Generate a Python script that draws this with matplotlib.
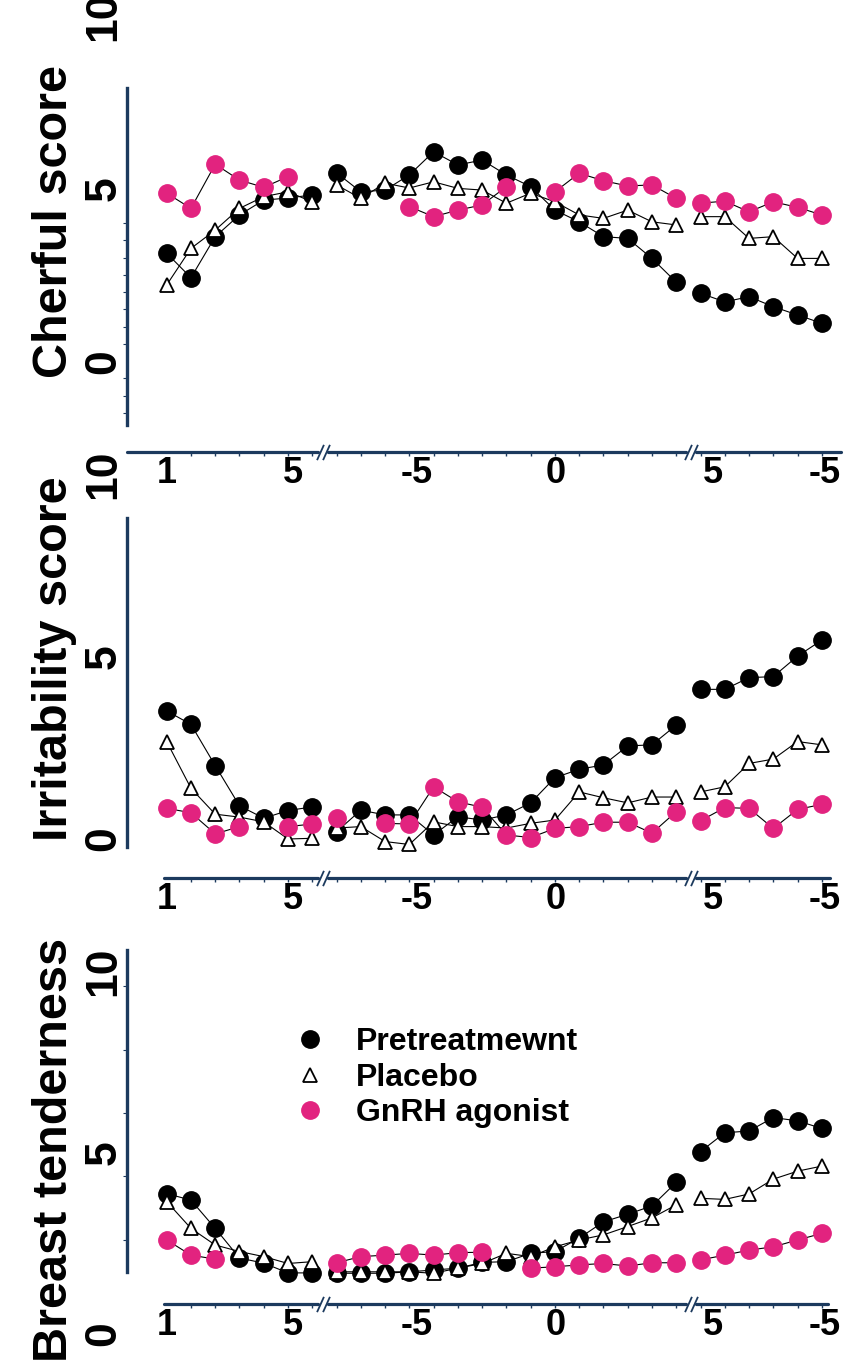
import numpy as np
import matplotlib
matplotlib.use('Agg')
import matplotlib.pyplot as plt
import matplotlib.transforms as mtransforms
from matplotlib.lines import Line2D

plt.rcParams['font.family'] = ['Liberation Sans', 'DejaVu Sans']
plt.rcParams['font.weight'] = 'bold'

nan = np.nan

# ---------------- data ----------------
x_idx = np.arange(28)
segments = [(0, 7), (7, 22), (22, 28)]
xtick_pos = [0, 5.2, 10.3, 16.05, 22.5, 27.1]
xtick_labels = ['1', '5', '-5', '0', '5', '-5']
ytick_pos = [0, 5, 10]
ytick_labels = ['0', '5', '10']
series_names = ['Pretreatmewnt', 'Placebo', 'GnRH agonist']

cheer_pre = [3.13, 2.42, 3.61, 4.24, 4.67, 4.73, 4.82, 5.46, 4.91, 4.96, 5.40, 6.07, 5.69, 5.83,
             5.40, 5.06, 4.38, 4.04, 3.61, 3.56, 2.98, 2.29, 1.97, 1.72, 1.87, 1.58, 1.34, 1.10]
cheer_pla = [2.21, 3.27, 3.80, 4.43, 4.77, 4.91, 4.62, 5.11, 4.72, 5.16, 5.02, 5.20, 5.01, 4.96,
             4.58, 4.87, 4.62, 4.24, 4.14, 4.38, 4.04, 3.95, 4.19, 4.19, 3.56, 3.61, 2.98, 2.98]
cheer_gnrh = [4.87, 4.43, 5.71, 5.25, 5.04, 5.35, nan, nan, nan, nan, 4.48, 4.19, 4.38, 4.53,
              5.06, nan, 4.91, 5.45, 5.23, 5.08, 5.11, 4.72, 4.58, 4.64, 4.33, 4.62, 4.46, 4.24]

irr_pre = [3.51, 3.14, 2.01, 0.91, 0.57, 0.78, 0.88, 0.20, 0.79, 0.66, 0.66, 0.11, 0.61, 0.52,
           0.66, 0.99, 1.68, 1.91, 2.03, 2.55, 2.58, 3.12, 4.10, 4.10, 4.42, 4.45, 5.01, 5.45]
irr_pla = [2.67, 1.39, 0.68, 0.60, 0.47, 0.00, 0.02, 0.30, 0.34, -0.07, -0.15, 0.47, 0.34, 0.34,
           0.30, 0.43, 0.52, 1.29, 1.13, 0.99, 1.15, 1.15, 1.29, 1.43, 2.07, 2.19, 2.67, 2.58]
irr_gnrh = [0.84, 0.72, 0.14, 0.34, nan, 0.34, 0.41, 0.57, nan, 0.43, 0.41, 1.43, 1.02, 0.87,
            0.11, 0.04, 0.29, 0.34, 0.46, 0.46, 0.16, 0.75, 0.50, 0.86, 0.84, 0.29, 0.81, 0.95]

breast_pre = [3.87, 3.69, 2.91, 2.09, 1.95, 1.68, 1.68, 1.67, 1.67, 1.67, 1.71, 1.76, 1.81, 1.97,
              1.99, 2.22, 2.27, 2.64, 3.09, 3.30, 3.53, 4.18, 5.03, 5.55, 5.60, 5.97, 5.88, 5.67]
breast_pla = [3.65, 2.91, 2.45, 2.27, 2.13, 1.94, 1.99, 1.71, 1.71, 1.71, 1.71, 1.67, 1.81, 1.94,
              2.22, 2.13, 2.40, 2.59, 2.73, 2.96, 3.20, 3.56, 3.74, 3.71, 3.86, 4.27, 4.49, 4.63]
breast_gnrh = [2.59, 2.17, 2.06, nan, nan, nan, nan, 1.96, 2.13, 2.17, 2.22, 2.17, 2.24, 2.25,
               nan, 1.81, 1.85, 1.90, 1.94, 1.87, 1.96, 1.96, 2.04, 2.17, 2.31, 2.40, 2.59, 2.77]

ylabels = ['Cherful score', 'Irritability score', 'Breast tenderness']
panel_data = [(cheer_pre, cheer_pla, cheer_gnrh),
              (irr_pre, irr_pla, irr_gnrh),
              (breast_pre, breast_pla, breast_gnrh)]

# ---------------- layout ----------------
W, H, DPI = 848, 1361, 100
NAVY = '#1C3A5E'
PINK = '#E2237F'
XLIM = (-1.636, 27.79)
LEFT_PX, RIGHT_PX = 127, 841
breaks = [6.45, 21.62]

layout = [
    dict(top=5, bottom=425, ylim=(-1.849, 10.325), spine=(-1.85, 7.92), off=27,
         xstart=-1.636, xend=27.79, label_y=221, minor=np.arange(-1.5, 4.01, 0.5)),
    dict(top=465, bottom=847, ylim=(-0.219, 10.247), spine=(-0.22, 8.79), off=31,
         xstart=-0.11, xend=27.34, label_y=659, minor=[]),
    dict(top=945, bottom=1352, ylim=(-0.505, 10.737), spine=(1.70, 10.6), off=-48,
         xstart=-0.11, xend=27.26, label_y=1150, minor=np.arange(2.6, 10.0, 1.75)),
]

fig = plt.figure(figsize=(W / DPI, H / DPI), dpi=DPI)
fig.patch.set_facecolor('white')

slash = [(-0.45, -1.0), (0.45, 1.0)]

for k, (lay, data, ylab) in enumerate(zip(layout, panel_data, ylabels)):
    rect = [LEFT_PX / W, 1 - lay['bottom'] / H, (RIGHT_PX - LEFT_PX) / W,
            (lay['bottom'] - lay['top']) / H]
    ax = fig.add_axes(rect)
    ax.set_facecolor('none')

    pre, pla, gn = [np.asarray(d, float) for d in data]
    for a, b in segments:
        xs = x_idx[a:b]
        ax.plot(xs, pre[a:b], color='black', lw=0.8, marker='o', ms=12.5,
                mfc='black', mec='black', zorder=3, clip_on=False)
        ax.plot(xs, pla[a:b], color='black', lw=0.8, marker='^', ms=10,
                mfc='white', mec='black', mew=1.3, zorder=4, clip_on=False)
        ax.plot(xs, gn[a:b], color='black', lw=0.8, marker='o', ms=12.5,
                mfc=PINK, mec=PINK, zorder=5, clip_on=False)

    # spines
    for s in ['top', 'right']:
        ax.spines[s].set_visible(False)
    ax.spines['left'].set_color(NAVY)
    ax.spines['left'].set_linewidth(2.4)
    ax.spines['left'].set_bounds(*lay['spine'])
    ax.spines['bottom'].set_position(('outward', lay['off'] * 72 / DPI))
    ax.spines['bottom'].set_visible(False)

    # broken x axis line
    trans = ax.get_xaxis_transform() + mtransforms.ScaledTranslation(
        0, -lay['off'] / DPI, fig.dpi_scale_trans)
    segs_x = [(lay['xstart'], breaks[0] - 0.2), (breaks[0] + 0.2, breaks[1] - 0.2),
              (breaks[1] + 0.2, lay['xend'])]
    for xa, xb in segs_x:
        ax.plot([xa, xb], [0, 0], color=NAVY, lw=2.3, transform=trans,
                clip_on=False, solid_capstyle='round')
    for bx in breaks:
        ax.plot([bx - 0.13, bx + 0.13], [0, 0], ls='none', marker=slash, ms=11,
                mec=NAVY, mew=1.3, transform=trans, clip_on=False)

    # x ticks
    ax.set_xticks(xtick_pos)
    ax.set_xticklabels(xtick_labels)
    ax.set_xticks(x_idx, minor=True)
    ax.tick_params(axis='x', which='major', length=0, pad=3, labelsize=26)
    ax.tick_params(axis='x', which='minor', length=3, width=1, color=NAVY)

    # y ticks
    ax.set_yticks(ytick_pos)
    ax.set_yticklabels(ytick_labels)
    ax.set_yticks(lay['minor'], minor=True)
    ax.tick_params(axis='y', which='major', length=0, pad=2, labelsize=32,
                   labelrotation=90)
    ax.tick_params(axis='y', which='minor', length=3, width=0.8, color=NAVY)
    for lab in ax.get_yticklabels():
        lab.set_va('center')

    # limits last (set_ticks can widen them)
    ax.set_xlim(*XLIM)
    ax.set_ylim(*lay['ylim'])

    ax.set_ylabel(ylab, fontsize=35, fontweight='bold')
    ax.yaxis.label.set_va('center')
    ax.yaxis.set_label_coords(55 / W, 1 - lay['label_y'] / H, transform=fig.transFigure)

    if k == 2:
        handles = [Line2D([], [], ls='none', marker='o', ms=12.5, color='black'),
                   Line2D([], [], ls='none', marker='^', ms=10, mfc='white',
                          mec='black', mew=1.3),
                   Line2D([], [], ls='none', marker='o', ms=12.5, color=PINK)]
        leg = ax.legend(handles, series_names, loc='upper left',
                        bbox_to_anchor=(294 / W, 1 - 1027 / H),
                        bbox_transform=fig.transFigure, frameon=False,
                        fontsize=23, handlelength=1.0, handletextpad=0.95,
                        labelspacing=0.18, borderpad=0, borderaxespad=0)
        for t in leg.get_texts():
            t.set_fontweight('bold')

fig.savefig('out.png', dpi=DPI, facecolor='white')
